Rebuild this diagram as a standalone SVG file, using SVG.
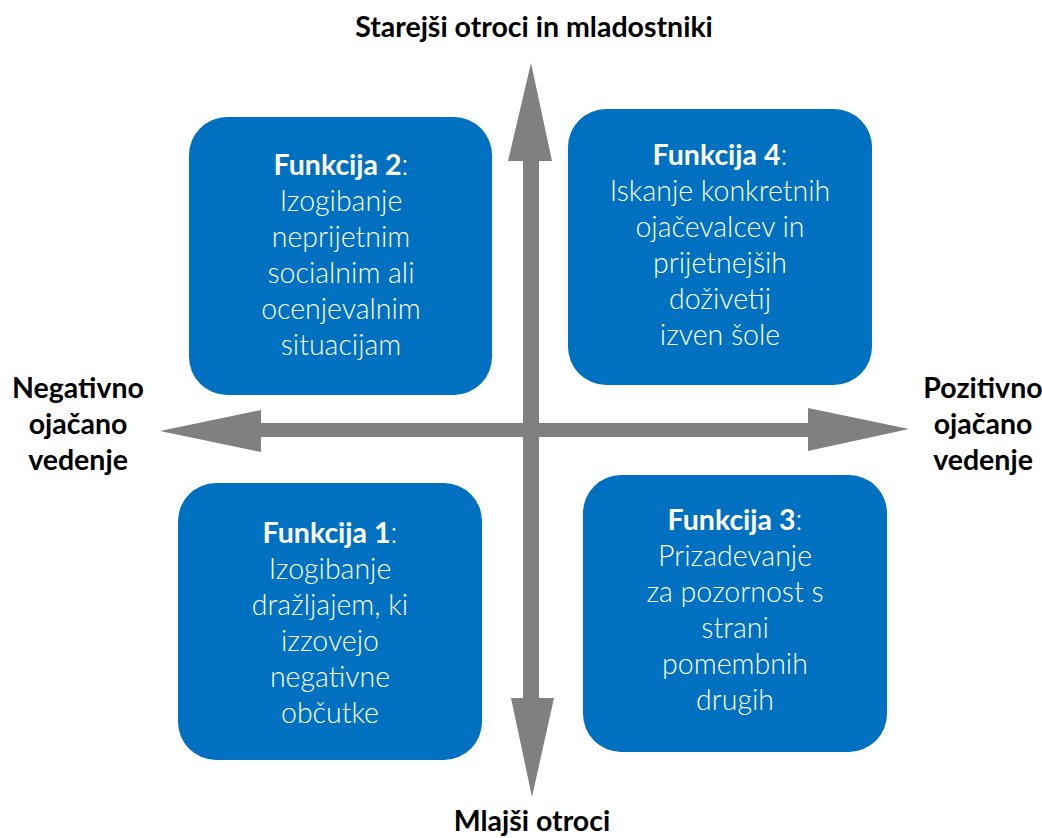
<svg xmlns="http://www.w3.org/2000/svg" width="1042" height="838" viewBox="0 0 1042 838">
<style>
.box{fill:#0070C0}
.bt{font-family:Lato,"Open Sans","Liberation Sans",sans-serif;font-size:28.5px;font-weight:300;fill:#ffffff;text-anchor:middle}
.hd{font-weight:700}
.ax{font-family:Lato,"Open Sans","Liberation Sans",sans-serif;font-size:28.5px;font-weight:700;fill:#000000;text-anchor:middle}
.arr{fill:#808080}
</style>
<rect width="1042" height="838" fill="#ffffff"/>
<g id="connectors">
<polygon class="arr" points="160,431 261,410 261,423 808,423 808,408 909,429 808,451 808,437 261,437 261,452"/>
<polygon class="arr" points="531,63 552,161 539,161 539,698 554,698 532,797 511,698 523,698 523,161 508,161"/>
</g>
<g id="label-top"><text class="ax" x="534" y="37">Starejši otroci in mladostniki</text></g>
<g id="label-bottom"><text class="ax" x="532" y="831">Mlajši otroci</text></g>
<g id="label-left"><text class="ax"><tspan x="78" y="398">Negativno</tspan><tspan x="78" y="434">ojačano</tspan><tspan x="78" y="470">vedenje</tspan></text></g>
<g id="label-right"><text class="ax"><tspan x="983" y="398">Pozitivno</tspan><tspan x="983" y="434">ojačano</tspan><tspan x="983" y="470">vedenje</tspan></text></g>
<g id="funkcija2">
<rect class="box" x="189" y="117" width="303" height="278" rx="38"/>
<text class="bt"><tspan x="341" y="175"><tspan class="hd">Funkcija 2</tspan>:</tspan><tspan x="341" y="211">Izogibanje</tspan><tspan x="341" y="247">neprijetnim</tspan><tspan x="341" y="283">socialnim ali</tspan><tspan x="341" y="319">ocenjevalnim</tspan><tspan x="341" y="355">situacijam</tspan></text>
</g>
<g id="funkcija4">
<rect class="box" x="568" y="109" width="304" height="276" rx="38"/>
<text class="bt"><tspan x="720" y="165"><tspan class="hd">Funkcija 4</tspan>:</tspan><tspan x="720" y="201">Iskanje konkretnih</tspan><tspan x="720" y="237">ojačevalcev in</tspan><tspan x="720" y="273">prijetnejših</tspan><tspan x="720" y="309">doživetij</tspan><tspan x="720" y="345">izven šole</tspan></text>
</g>
<g id="funkcija1">
<rect class="box" x="178" y="483" width="304" height="277" rx="38"/>
<text class="bt"><tspan x="330" y="543"><tspan class="hd">Funkcija 1</tspan>:</tspan><tspan x="330" y="579">Izogibanje</tspan><tspan x="330" y="615">dražljajem, ki</tspan><tspan x="330" y="651">izzovejo</tspan><tspan x="330" y="687">negativne</tspan><tspan x="330" y="723">občutke</tspan></text>
</g>
<g id="funkcija3">
<rect class="box" x="583" y="475" width="304" height="277" rx="38"/>
<text class="bt"><tspan x="735" y="530"><tspan class="hd">Funkcija 3</tspan>:</tspan><tspan x="735" y="566">Prizadevanje</tspan><tspan x="735" y="602">za pozornost s</tspan><tspan x="735" y="638">strani</tspan><tspan x="735" y="674">pomembnih</tspan><tspan x="735" y="710">drugih</tspan></text>
</g>
</svg>
